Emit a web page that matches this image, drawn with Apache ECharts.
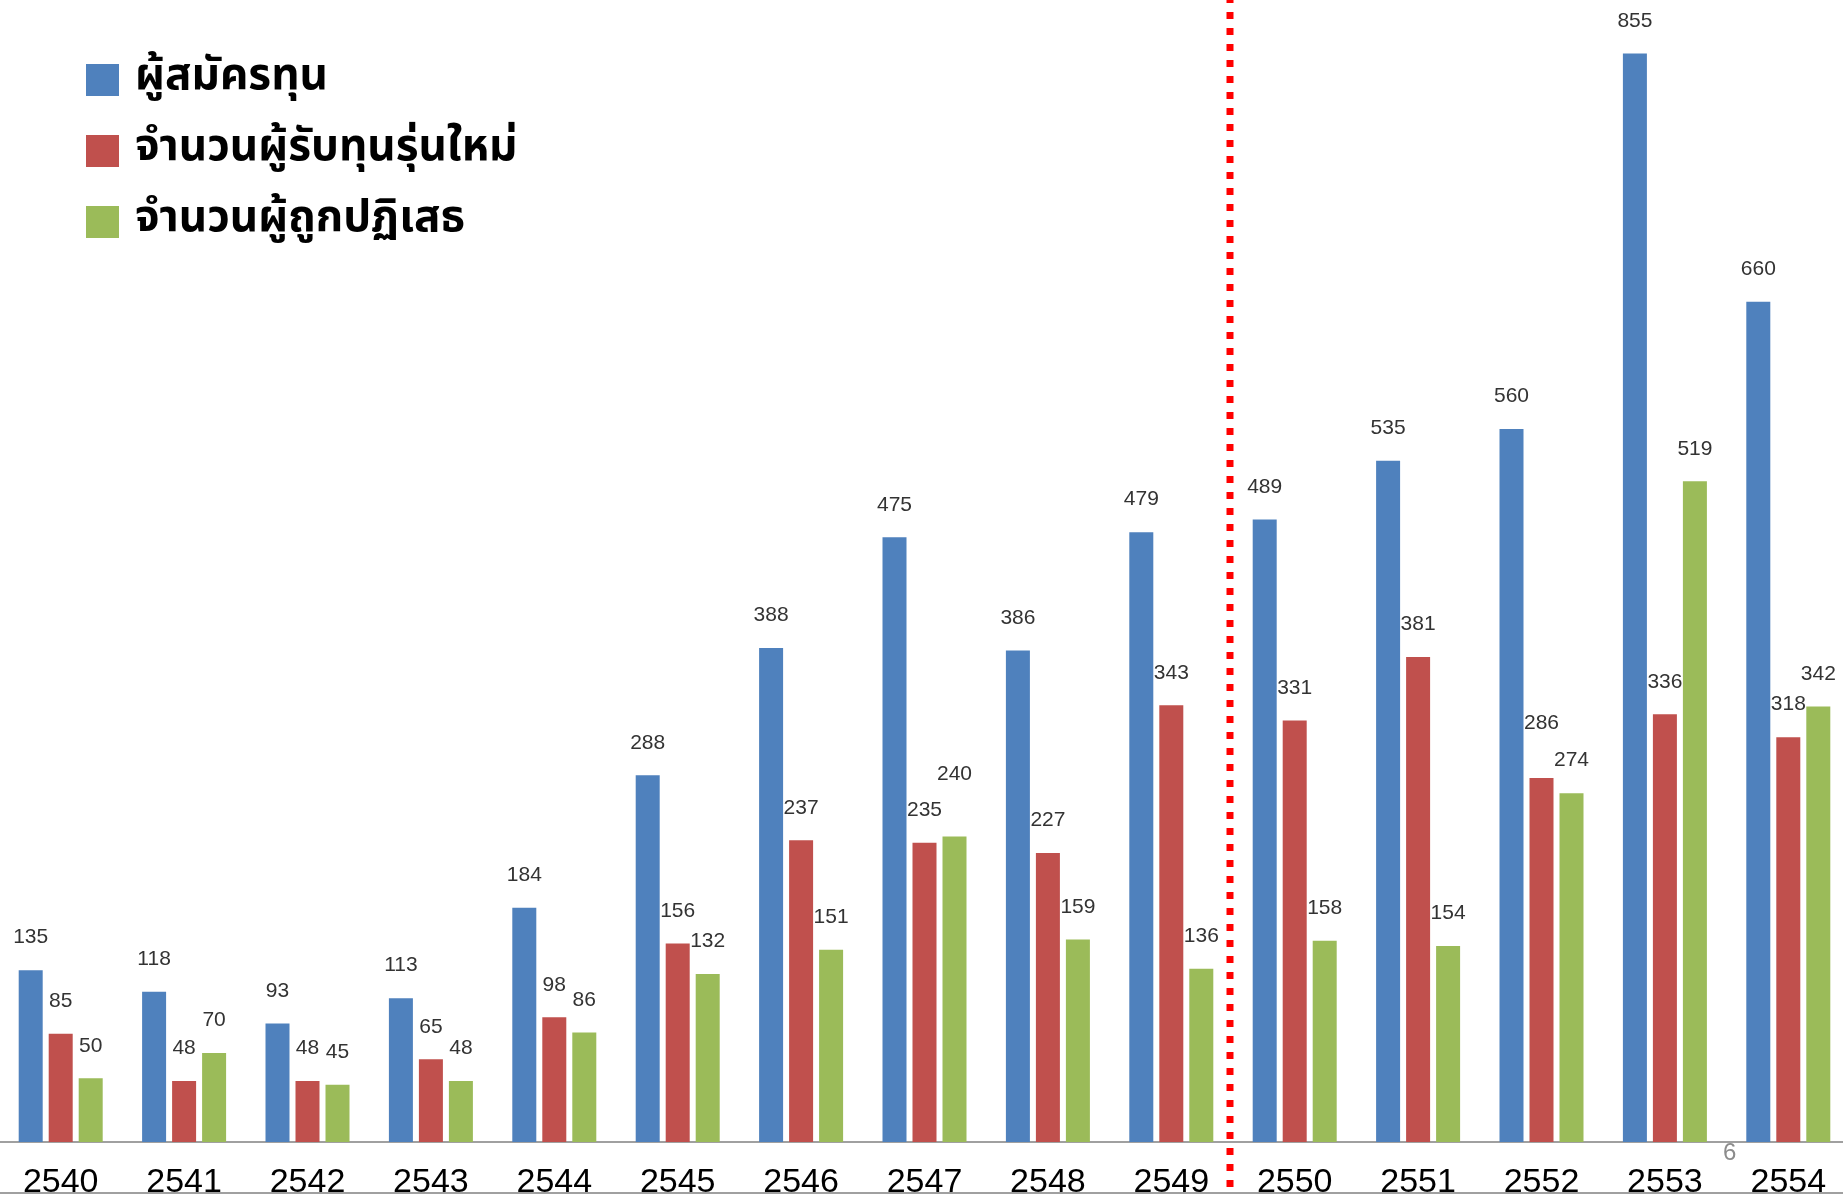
<!DOCTYPE html>
<html>
<head>
<meta charset="utf-8">
<script src="https://cdn.jsdelivr.net/npm/echarts@6/dist/echarts.min.js"></script>
<style>
html,body{margin:0;padding:0;background:#fff;}
#chart{width:1843px;height:1195px;}
</style>
</head>
<body>
<div id="chart"></div>
<script>
const years = ['2540','2541','2542','2543','2544','2545','2546','2547','2548','2549','2550','2551','2552','2553','2554'];
const applicants = [135,118,93,113,184,288,388,475,386,479,489,535,560,855,660];
const newGrantees = [85,48,48,65,98,156,237,235,227,343,331,381,286,336,318];
const rejected = [50,70,45,48,86,132,151,240,159,136,158,154,274,519,342];
const seriesNames = ['ผู้สมัครทุน','จำนวนผู้รับทุนรุ่นใหม่','จำนวนผู้ถูกปฏิเสธ'];
const dividerAt = 10; // boundary between 2549 and 2550

const colors = ['#4f81bd','#c0504d','#9bbb59'];
const baseDist = 22;
// extra label lifts seen in the reference
const extraLift = [{}, {12: 22}, {7: 30}];

function buildData(values, si) {
  return values.map((v, i) => {
    const lift = extraLift[si][i];
    if (lift) return { value: v, label: { distance: baseDist + lift } };
    return v;
  });
}

const chart = echarts.init(document.getElementById('chart'));
const labelStyle = {
  show: true, position: 'top', distance: baseDist,
  fontSize: 21, fontFamily: "'Liberation Sans', Arial, sans-serif", color: '#333'
};
const barSeries = [applicants, newGrantees, rejected].map((vals, si) => ({
  name: seriesNames[si],
  type: 'bar',
  xAxisIndex: 0, yAxisIndex: 0,
  barWidth: 24,
  barGap: '25%',
  itemStyle: { color: colors[si] },
  label: labelStyle,
  data: buildData(vals, si)
}));

chart.setOption({
  animation: false,
  backgroundColor: '#fff',
  legend: {
    orient: 'vertical',
    left: 86, top: 58, padding: 0,
    itemWidth: 33, itemHeight: 32, itemGap: 27,
    icon: 'rect',
    data: seriesNames,
    textStyle: {
      fontSize: 44, fontWeight: 'bold', color: '#000', lineHeight: 32,
      fontFamily: "Tahoma, 'Noto Sans Thai', Loma, Garuda, 'DejaVu Sans', sans-serif",
      padding: [0, 0, 0, 11]
    }
  },
  grid: [
    { left: -1, width: 1851, top: 0, bottom: 53, outerBoundsMode: 'none', containLabel: false },
    { left: -4, width: 1851, top: 0, bottom: 8, outerBoundsMode: 'none', containLabel: false }
  ],
  xAxis: [
    {
      type: 'category', gridIndex: 0, data: years,
      axisTick: { show: false },
      axisLine: { lineStyle: { color: '#a0a0a0', width: 2 } },
      axisLabel: {
        fontSize: 34, color: '#000', margin: 24,
        fontFamily: "'Liberation Sans Narrow', 'Arial Narrow', 'Liberation Sans', sans-serif"
      }
    },
    { type: 'value', gridIndex: 1, min: 0, max: years.length, show: false }
  ],
  yAxis: [
    { type: 'value', gridIndex: 0, min: 0, max: 897, show: false, splitLine: { show: false } },
    { type: 'value', gridIndex: 1, min: 0, max: 1, show: false, splitLine: { show: false } }
  ],
  series: barSeries.concat([{
    type: 'line',
    xAxisIndex: 1, yAxisIndex: 1,
    symbol: 'none', silent: true, z: 10,
    lineStyle: { color: '#ff0000', width: 7, type: [7, 9] },
    data: [[dividerAt, 0], [dividerAt, 1]]
  }]),
  graphic: [
    { type: 'rect', left: 0, top: 1192, shape: { width: 1843, height: 2 }, style: { fill: '#a0a0a0' }, silent: true },
    { type: 'text', left: 1723, top: 1141, style: { text: '6', fontSize: 24, fill: '#8c8c8c', fontFamily: "'Liberation Sans', Arial, sans-serif" }, silent: true }
  ]
});
</script>
</body>
</html>
